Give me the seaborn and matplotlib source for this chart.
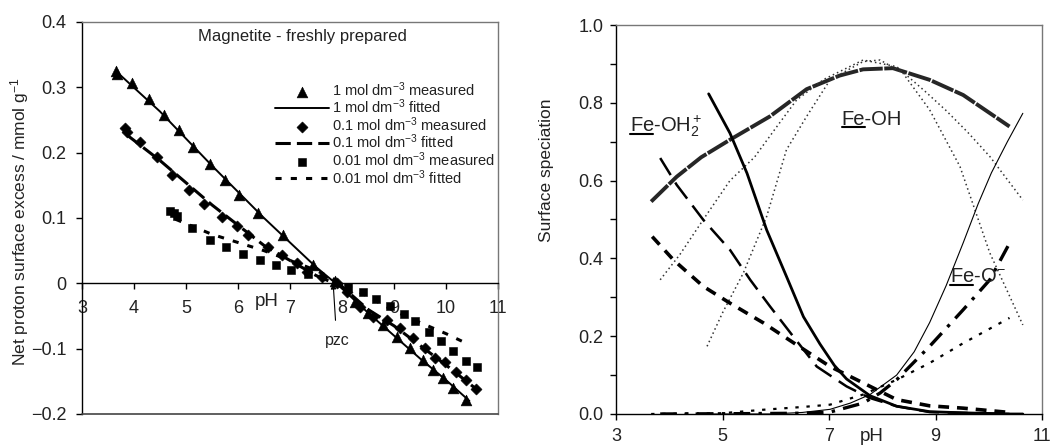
import numpy as np
import pandas as pd
import matplotlib
matplotlib.use("Agg")
import matplotlib.pyplot as plt
from matplotlib.lines import Line2D
import seaborn as sns

# ---------------- left panel: proton surface excess ----------------
ph_1m_meas = [3.65, 3.68, 3.96, 4.28, 4.57, 4.86, 5.14, 5.46, 5.75, 6.01, 6.39, 6.86,
              7.45, 7.86, 8.25, 8.50, 8.79, 9.05, 9.30, 9.56, 9.75, 9.94, 10.14, 10.39]
ex_1m_meas = [0.325, 0.320, 0.306, 0.282, 0.257, 0.234, 0.209, 0.183, 0.158, 0.135, 0.107, 0.074,
              0.028, 0.003, -0.028, -0.046, -0.064, -0.082, -0.099, -0.117, -0.132, -0.145, -0.160, -0.178]
ph_1m_fit = [3.65, 4.5, 5.5, 6.5, 7.5, 8.0, 8.5, 9.0, 9.5, 10.0, 10.45]
ex_1m_fit = [0.325, 0.263, 0.180, 0.100, 0.025, -0.008, -0.045, -0.080, -0.115, -0.148, -0.180]

ph_01_meas = [3.83, 3.87, 4.12, 4.44, 4.73, 5.05, 5.34, 5.69, 5.98, 6.20, 6.58, 6.84, 7.13, 7.32,
              7.61, 7.90, 8.09, 8.34, 8.60, 8.86, 9.11, 9.37, 9.59, 9.78, 9.98, 10.20, 10.39, 10.58]
ex_01_meas = [0.237, 0.232, 0.217, 0.194, 0.166, 0.143, 0.122, 0.102, 0.087, 0.074, 0.056, 0.043, 0.031, 0.018,
              0.010, 0.000, -0.013, -0.036, -0.051, -0.056, -0.069, -0.084, -0.099, -0.115, -0.120, -0.135, -0.148, -0.161]
ph_01_fit = [3.85, 4.5, 5.5, 6.5, 7.5, 8.0, 8.5, 9.0, 9.5, 10.0, 10.6]
ex_01_fit = [0.228, 0.188, 0.120, 0.058, 0.012, -0.005, -0.040, -0.065, -0.095, -0.125, -0.163]

ph_001_meas = [4.70, 4.76, 4.82, 5.11, 5.46, 5.77, 6.10, 6.42, 6.73, 7.02, 7.35,
               8.12, 8.41, 8.65, 8.92, 9.20, 9.40, 9.68, 9.91, 10.14, 10.39, 10.60]
ex_001_meas = [0.110, 0.107, 0.103, 0.084, 0.067, 0.055, 0.045, 0.035, 0.028, 0.021, 0.014,
               -0.006, -0.014, -0.024, -0.034, -0.047, -0.058, -0.075, -0.088, -0.104, -0.119, -0.128]
ph_001_fit = [4.8, 5.5, 6.5, 7.5, 8.0, 8.5, 9.0, 9.5, 10.0, 10.45]
ex_001_fit = [0.098, 0.075, 0.050, 0.020, 0.000, -0.020, -0.042, -0.060, -0.077, -0.094]

left_yticks = [-0.2, -0.1, 0.0, 0.1, 0.2, 0.3, 0.4]
left_yticklabels = ["\u22120.2", "\u22120.1", "0", "0.1", "0.2", "0.3", "0.4"]
left_xticks = [3, 4, 5, 6, 7, 8, 9, 10, 11]
pzc_ph = 7.83

# ---------------- right panel: surface speciation ----------------
ph_feoh_a = [3.66, 4.14, 4.6, 5.14, 5.89, 6.58, 7.2, 7.64, 8.2, 8.89, 9.52, 10.39]
fr_feoh_a = [0.546, 0.61, 0.66, 0.705, 0.765, 0.835, 0.87, 0.886, 0.889, 0.859, 0.82, 0.739]
ph_feoh_b = [3.83, 4.2, 4.64, 5.14, 5.6, 6.0, 6.39, 6.9, 7.64, 8.27, 8.8, 9.2, 9.6, 10.02, 10.64]
fr_feoh_b = [0.345, 0.41, 0.50, 0.60, 0.66, 0.735, 0.807, 0.86, 0.91, 0.893, 0.83, 0.78, 0.725, 0.662, 0.55]
ph_feoh_c = [4.71, 5.0, 5.39, 5.83, 6.2, 6.58, 7.02, 7.64, 7.96, 8.39, 8.89, 9.46, 10.02, 10.64]
fr_feoh_c = [0.174, 0.26, 0.362, 0.508, 0.679, 0.765, 0.859, 0.906, 0.91, 0.876, 0.782, 0.636, 0.414, 0.229]

ph_feoh2_a = [3.68, 4.08, 4.64, 5.14, 5.77, 6.39, 7.02, 7.64, 8.27, 8.89, 9.52, 10.39]
fr_feoh2_a = [0.456, 0.396, 0.328, 0.285, 0.234, 0.178, 0.122, 0.080, 0.037, 0.021, 0.015, 0.004]
ph_feoh2_b = [3.83, 4.14, 4.64, 5.14, 5.52, 5.89, 6.33, 6.77, 7.33, 7.77, 8.27, 8.89, 10.39]
fr_feoh2_b = [0.658, 0.589, 0.499, 0.422, 0.345, 0.277, 0.199, 0.122, 0.071, 0.041, 0.020, 0.005, 0.0]
ph_feoh2_c = [4.74, 5.14, 5.46, 5.83, 6.2, 6.52, 6.83, 7.1, 7.33, 7.77, 8.27, 8.89, 9.52, 10.39, 10.64]
fr_feoh2_c = [0.823, 0.722, 0.619, 0.473, 0.354, 0.250, 0.180, 0.125, 0.090, 0.047, 0.020, 0.006, 0.003, 0.0, 0.0]

ph_feo_a = [3.66, 5.0, 5.77, 6.5, 7.02, 7.64, 8.27, 8.89, 9.52, 10.39]
fr_feo_a = [0.0, 0.002, 0.011, 0.018, 0.024, 0.050, 0.088, 0.131, 0.182, 0.247]
ph_feo_b = [3.83, 5.5, 6.5, 7.02, 7.64, 7.96, 8.27, 8.89, 9.52, 10.02, 10.39]
fr_feo_b = [0.0, 0.001, 0.002, 0.005, 0.028, 0.054, 0.088, 0.174, 0.268, 0.345, 0.439]
ph_feo_c = [4.71, 5.89, 6.5, 7.02, 7.4, 7.77, 8.27, 8.6, 8.89, 9.2, 9.52, 9.8, 10.05, 10.35, 10.64]
fr_feo_c = [0.0, 0.0, 0.004, 0.012, 0.028, 0.050, 0.100, 0.160, 0.235, 0.330, 0.440, 0.540, 0.620, 0.700, 0.773]

right_xticks = [3, 5, 7, 9, 11]
right_yticks = [0.0, 0.2, 0.4, 0.6, 0.8, 1.0]

# ---------------- styling ----------------
sns.set_theme(style="white")
plt.rcParams["font.family"] = ["Liberation Sans", "DejaVu Sans"]
plt.rcParams["mathtext.fontset"] = "custom"
plt.rcParams["mathtext.rm"] = "Liberation Sans"
plt.rcParams["mathtext.it"] = "Liberation Sans:italic"
plt.rcParams["mathtext.bf"] = "Liberation Sans:bold"
plt.rcParams["axes.unicode_minus"] = True

TXT = "#222222"
FS_TICK = 13
FS_LEG = 10.5

fig = plt.figure(figsize=(10.51, 4.46), dpi=100)
axL = fig.add_axes([82 / 1051, 1 - 414 / 446, 416 / 1051, 392 / 446])
axR = fig.add_axes([616 / 1051, 1 - 414 / 446, 426 / 1051, 389 / 446])


def line(ax, x, y, **kw):
    df = pd.DataFrame({"pH": x, "v": y})
    sns.lineplot(data=df, x="pH", y="v", ax=ax, estimator=None, sort=False,
                 legend=False, **kw)


def points(ax, x, y, **kw):
    df = pd.DataFrame({"pH": x, "v": y})
    sns.scatterplot(data=df, x="pH", y="v", ax=ax, legend=False,
                    edgecolor="black", linewidth=0.4, **kw)


# left panel
points(axL, ph_1m_meas, ex_1m_meas, marker="^", s=60, color="black",
       label="1 mol dm$^{\u22123}$ measured", zorder=3)
line(axL, ph_1m_fit, ex_1m_fit, color="black", lw=1.4,
     label="1 mol dm$^{\u22123}$ fitted", zorder=4)
points(axL, ph_01_meas, ex_01_meas, marker="D", s=32, color="black",
       label="0.1 mol dm$^{\u22123}$ measured", zorder=3)
line(axL, ph_01_fit, ex_01_fit, color="black", lw=2.2, linestyle=(0, (5, 2)),
     label="0.1 mol dm$^{\u22123}$ fitted", zorder=4)
points(axL, ph_001_meas, ex_001_meas, marker="s", s=34, color="black",
       label="0.01 mol dm$^{\u22123}$ measured", zorder=3)
line(axL, ph_001_fit, ex_001_fit, color="black", lw=2.2, linestyle=(0, (2, 3)),
     label="0.01 mol dm$^{\u22123}$ fitted", zorder=4)

axL.set_xlim(3, 11)
axL.set_ylim(-0.2, 0.4)
axL.spines["bottom"].set_position(("data", 0))
axL.spines["bottom"].set_color("black")
axL.spines["left"].set_color("black")
axL.spines["top"].set_color("#777777")
axL.spines["right"].set_color("#777777")
for s in axL.spines.values():
    s.set_linewidth(1.0)
axL.axhline(-0.2, color="#444444", lw=1.2, clip_on=False, zorder=5)
axL.set_xticks(left_xticks)
axL.set_xticklabels([str(t) for t in left_xticks])
axL.set_yticks(left_yticks)
axL.set_yticklabels(left_yticklabels)
axL.tick_params(axis="both", direction="out", length=4, width=1, color="black",
                labelsize=FS_TICK, labelcolor=TXT, bottom=True, left=True)
axL.tick_params(axis="x", pad=8)
axL.tick_params(axis="y", pad=7)
axL.set_xlabel("")
axL.set_ylabel("Net proton surface excess / mmol g$^{\u22121}$", fontsize=12.5, color=TXT)
axL.yaxis.set_label_coords(-0.122, 0.49)
axL.text(0.529, 0.964, "Magnetite - freshly prepared", transform=axL.transAxes,
         ha="center", va="center", fontsize=12, color=TXT)
axL.text(6.33, -0.015, "pH", ha="left", va="top", fontsize=13.5, color=TXT)
axL.annotate("pzc", xy=(pzc_ph, 0.0), xytext=(pzc_ph + 0.07, -0.088),
             ha="center", va="center", fontsize=11.5, color=TXT, zorder=6,
             arrowprops=dict(arrowstyle="-|>", color="black", lw=0.8,
                             mutation_scale=8, shrinkA=7, shrinkB=0))

handles, labels = axL.get_legend_handles_labels()
leg = axL.legend(handles, labels, loc="upper left", bbox_to_anchor=(0.465, 0.852),
                 frameon=False, fontsize=FS_LEG, handlelength=3.7, handletextpad=0.2,
                 labelspacing=-0.07, borderpad=0, borderaxespad=0, markerscale=1.0)
for t in leg.get_texts():
    t.set_color(TXT)

# right panel
line(axR, ph_feoh_a, fr_feoh_a, color="#262626", lw=2.8, linestyle=(0, (6, 0.4)))
line(axR, ph_feoh_b, fr_feoh_b, color="#333333", lw=1.1, linestyle=(0, (1, 2)))
line(axR, ph_feoh_c, fr_feoh_c, color="#333333", lw=1.1, linestyle=(0, (1, 2)))
line(axR, ph_feoh2_a, fr_feoh2_a, color="black", lw=2.6, linestyle=(0, (3, 2.2)))
line(axR, ph_feoh2_b, fr_feoh2_b, color="black", lw=1.8, linestyle=(0, (8, 3.5)))
line(axR, ph_feoh2_c, fr_feoh2_c, color="black", lw=2.0)
line(axR, ph_feo_a, fr_feo_a, color="black", lw=1.6, linestyle=(0, (1.5, 3.5)))
line(axR, ph_feo_b, fr_feo_b, color="black", lw=2.4, linestyle=(0, (5, 2.5, 1, 2.5)))
line(axR, ph_feo_c, fr_feo_c, color="black", lw=0.8)

axR.set_xlim(3, 11)
axR.set_ylim(0, 1.0)
axR.set_xticks(right_xticks)
axR.set_xticklabels([str(t) for t in right_xticks])
axR.set_yticks(right_yticks)
axR.set_yticklabels([f"{t:.1f}" for t in right_yticks])
axR.set_yticks(np.arange(0.1, 1.0, 0.2), minor=True)
axR.spines["left"].set_color("black")
axR.spines["bottom"].set_color("black")
axR.spines["top"].set_color("#777777")
axR.spines["right"].set_color("#777777")
for s in axR.spines.values():
    s.set_linewidth(1.0)
axR.tick_params(axis="both", which="both", direction="out", length=4, width=1,
                color="black", labelsize=FS_TICK, labelcolor=TXT, bottom=True, left=True)
axR.tick_params(axis="x", pad=6)
axR.tick_params(axis="y", pad=5)
axR.set_xlabel("")
axR.set_ylabel("Surface speciation", fontsize=12.5, color=TXT)
axR.yaxis.set_label_coords(-0.145, 0.627)
axR.annotate("pH", xy=(7.8, 0), xycoords=("data", "axes fraction"),
             xytext=(0, -10), textcoords="offset points", ha="center", va="top",
             fontsize=13.5, color=TXT)

species = [
    (3.26, 0.725, "Fe-OH$_2^+$"),
    (7.24, 0.743, "Fe-OH"),
    (9.27, 0.339, "Fe-O$^{\u2212}$"),
]
label_texts = []
for x, y, s in species:
    t = axR.text(x, y, s, ha="left", va="baseline", fontsize=14.5, color=TXT)
    label_texts.append(t)

# underline the "Fe" part of each species name, just below its baseline
fig.canvas.draw()
renderer = fig.canvas.get_renderer()
to_ax = axR.transAxes.inverted()
for t in label_texts:
    probe = axR.text(*t.get_position(), "Fe", ha="left", va="baseline",
                     fontsize=t.get_fontsize())
    fe = probe.get_window_extent(renderer)
    probe.remove()
    base_y = axR.transData.transform(t.get_position())[1] - 2.5
    (x0, y0) = to_ax.transform((fe.x0 + 0.5, base_y))
    (x1, _) = to_ax.transform((fe.x1 - 0.5, base_y))
    axR.add_line(Line2D([x0, x1], [y0, y0], transform=axR.transAxes,
                        color="black", lw=1.5, clip_on=False))

fig.savefig("out.png", dpi=100)
